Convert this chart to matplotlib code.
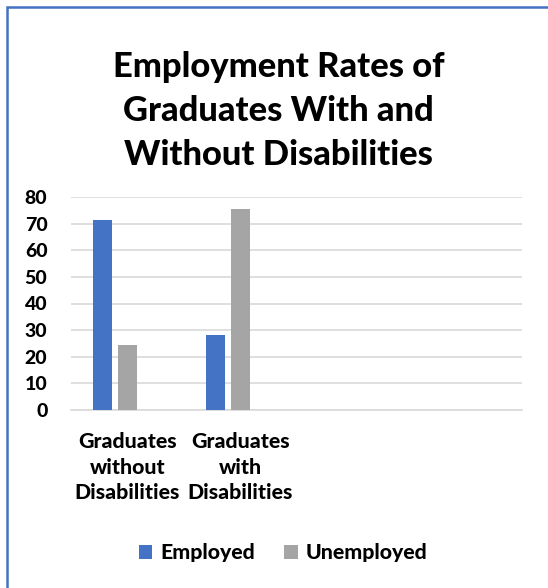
import matplotlib
matplotlib.use("Agg")
import matplotlib.pyplot as plt
from matplotlib.patches import Patch, Rectangle
import numpy as np

plt.rcParams['font.family'] = ['Lato', 'DejaVu Sans']
WT = 900

title_lines = ["Employment Rates of", "Graduates With and", "Without Disabilities"]
categories = ["Graduates\nwithout\nDisabilities", "Graduates\nwith\nDisabilities", "", ""]
series_names = ["Employed", "Unemployed"]
employed = [71.3, 28.3]
unemployed = [24.4, 75.4]
yticks = [0, 10, 20, 30, 40, 50, 60, 70, 80]

BLUE = "#4472C4"
GRAY = "#A5A5A5"

W, H = 548, 588
fig = plt.figure(figsize=(W / 100, H / 100), dpi=100)

fig.patches.append(Rectangle((6.5 / W, -0.1), 1.2, 1 - 7.5 / H + 0.1,
                             transform=fig.transFigure, fill=False,
                             edgecolor=BLUE, linewidth=1.8))

ax_left, ax_right = 71 / W, 522 / W
ax_bottom, ax_top = 1 - 410 / H, 1 - 197 / H
ax = fig.add_axes([ax_left, ax_bottom, ax_right - ax_left, ax_top - ax_bottom])

x = np.arange(len(categories))
bw = 0.1685
off = 0.222
ax.bar(x[:len(employed)] - off, employed, width=bw, color=BLUE, zorder=3)
ax.bar(x[:len(unemployed)], unemployed, width=bw, color=GRAY, zorder=3)

ax.set_xlim(-0.5, len(categories) - 0.5)
ax.set_ylim(0, 80)
ax.set_yticks(yticks)
ax.set_yticklabels([str(v) for v in yticks], fontsize=14, fontweight=WT)
ax.set_xticks(x)
ax.set_xticklabels(categories, fontsize=15.3, fontweight=WT, linespacing=1.4)
ax.tick_params(axis='both', length=0, colors='black')
ax.tick_params(axis='y', pad=17)
ax.tick_params(axis='x', pad=16)
ax.grid(axis='y', color='#D9D9D9', linewidth=1.2, zorder=0)
for s in ['top', 'right', 'left']:
    ax.spines[s].set_visible(False)
ax.spines['bottom'].set_color('#D9D9D9')
ax.spines['bottom'].set_linewidth(1.2)

for i, line in enumerate(title_lines):
    fig.text(278.5 / W, 1 - (67 + 44 * i) / H, line, ha='center', va='center',
             fontsize=24.8, fontweight=WT, color='black')

handles = [Patch(facecolor=BLUE), Patch(facecolor=GRAY)]
fig.legend(handles, series_names, loc='center', bbox_to_anchor=(283 / W, 1 - 553 / H),
           ncol=2, frameon=False, prop={'size': 15.3, 'weight': WT},
           handlelength=0.65, handleheight=0.65, handletextpad=0.35, columnspacing=1.4)

fig.savefig("out.png", dpi=100, facecolor='white')
